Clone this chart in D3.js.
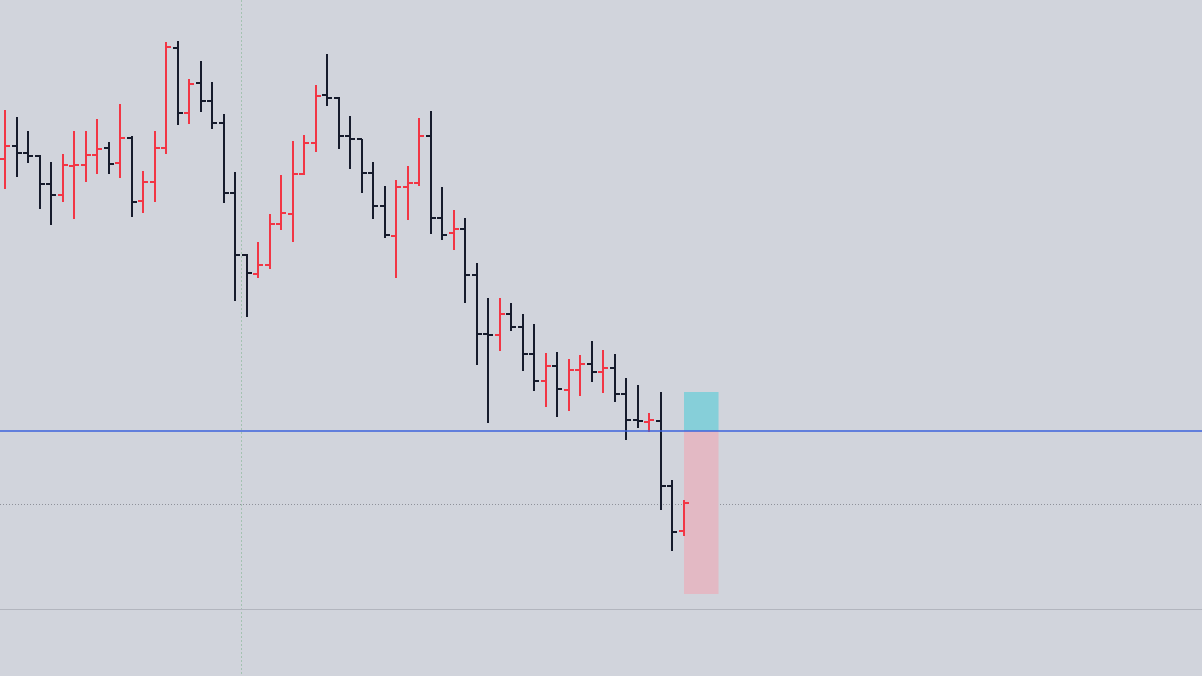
<!DOCTYPE html>
<html>
<head>
<meta charset="utf-8">
<script src="https://cdn.jsdelivr.net/npm/d3@7"></script>
<style>
  html, body { margin: 0; padding: 0; background: #d1d4dc; }
  svg { display: block; }
</style>
</head>
<body>
<div id="chart"></div>
<script>
// OHLC values, one entry per bar
const opens  = [541, 554, 547, 544, 516, 505, 534, 535, 545, 552, 537, 562, 499, 518, 552, 652, 587, 617, 599, 577,
                507, 445, 426, 435, 476, 486, 526, 557, 605, 602, 564, 561, 527, 494, 464, 513, 517, 564, 482, 467,
                471, 425, 366, 365, 386, 373, 346, 319, 334, 310, 330, 336, 328, 332, 306, 280, 278, 279, 214, 169];
const highs  = [590, 583, 569, 545, 538, 546, 569, 569, 581, 558, 596, 564, 529, 569, 658, 659, 621, 639, 618, 586,
                528, 446, 458, 486, 525, 559, 565, 615, 646, 603, 584, 561, 538, 514, 520, 534, 582, 589, 513, 490,
                482, 437, 402, 402, 397, 386, 376, 347, 348, 341, 345, 359, 350, 346, 322, 315, 287, 308, 220, 200];
const lows   = [511, 523, 537, 491, 475, 498, 481, 518, 526, 526, 522, 483, 487, 498, 546, 575, 576, 588, 571, 497,
                399, 383, 422, 431, 470, 458, 525, 548, 594, 551, 531, 507, 481, 462, 422, 480, 514, 466, 460, 450,
                397, 335, 277, 349, 369, 329, 309, 293, 283, 289, 304, 318, 307, 298, 260, 272, 268, 190, 149, 164];
const closes = [554, 547, 544, 516, 505, 535, 535, 545, 551, 536, 562, 498, 518, 552, 653, 587, 616, 599, 577, 507,
                445, 427, 435, 476, 487, 526, 557, 604, 602, 564, 561, 527, 494, 465, 513, 517, 564, 482, 465, 471,
                425, 366, 365, 386, 373, 346, 319, 334, 311, 330, 336, 328, 332, 306, 280, 279, 280, 214, 168, 197];

// long position tool: entry, target, stop, start/end bar
const entryPrice = 269;
const targetPrice = 308;
const stopPrice = 106;
const positionStart = 59;
const positionEnd = 62;

const dottedLevel = 196;
const baseLevel = 91;
const crosshairBar = 20.5;

const width = 1202;
const height = 676;
const upColor = "#f23645";
const downColor = "#161b2c";

const bars = opens.map((o, i) => ({ i, o, h: highs[i], l: lows[i], c: closes[i] }));

const x = d3.scaleLinear().domain([0, 59]).range([5, 684]);
const y = d3.scaleLinear().domain([24, 700]).range([height, 0]);

const svg = d3.select("#chart")
  .append("svg")
  .attr("width", width)
  .attr("height", height);

svg.append("rect")
  .attr("width", width)
  .attr("height", height)
  .attr("fill", "#d1d4dc");

// vertical dotted marker
svg.append("line")
  .attr("x1", Math.round(x(crosshairBar)) + 0.5)
  .attr("x2", Math.round(x(crosshairBar)) + 0.5)
  .attr("y1", 0)
  .attr("y2", height)
  .attr("stroke", "#a3c2b1")
  .attr("stroke-dasharray", "2,2");

// horizontal levels
svg.append("line")
  .attr("x1", 0).attr("x2", width)
  .attr("y1", Math.round(y(dottedLevel)) + 0.5)
  .attr("y2", Math.round(y(dottedLevel)) + 0.5)
  .attr("stroke", "#8e919a")
  .attr("stroke-dasharray", "1,2");

svg.append("line")
  .attr("x1", 0).attr("x2", width)
  .attr("y1", Math.round(y(baseLevel)) + 0.5)
  .attr("y2", Math.round(y(baseLevel)) + 0.5)
  .attr("stroke", "#b2b5be");

// position tool
svg.append("rect")
  .attr("x", x(positionStart))
  .attr("y", y(targetPrice))
  .attr("width", x(positionEnd) - x(positionStart))
  .attr("height", y(entryPrice) - y(targetPrice))
  .attr("fill", "#86cfd9");

svg.append("rect")
  .attr("x", x(positionStart))
  .attr("y", y(entryPrice))
  .attr("width", x(positionEnd) - x(positionStart))
  .attr("height", y(stopPrice) - y(entryPrice))
  .attr("fill", "#e3b9c4");

// OHLC bars
const g = svg.append("g");
const bar = g.selectAll("g.bar")
  .data(bars)
  .join("g")
  .attr("class", "bar")
  .attr("stroke", (d) => (d.c >= d.o ? upColor : downColor))
  .attr("stroke-width", 2);

bar.append("line")
  .attr("x1", (d) => Math.round(x(d.i)))
  .attr("x2", (d) => Math.round(x(d.i)))
  .attr("y1", (d) => y(d.h))
  .attr("y2", (d) => y(d.l));

bar.append("line")
  .attr("x1", (d) => Math.round(x(d.i)) - 5)
  .attr("x2", (d) => Math.round(x(d.i)))
  .attr("y1", (d) => Math.round(y(d.o)))
  .attr("y2", (d) => Math.round(y(d.o)));

bar.append("line")
  .attr("x1", (d) => Math.round(x(d.i)))
  .attr("x2", (d) => Math.round(x(d.i)) + 5)
  .attr("y1", (d) => Math.round(y(d.c)))
  .attr("y2", (d) => Math.round(y(d.c)));

// entry line
svg.append("line")
  .attr("x1", 0).attr("x2", width)
  .attr("y1", y(entryPrice))
  .attr("y2", y(entryPrice))
  .attr("stroke", "#3d63dd")
  .attr("stroke-width", 1.3);
</script>
</body>
</html>
